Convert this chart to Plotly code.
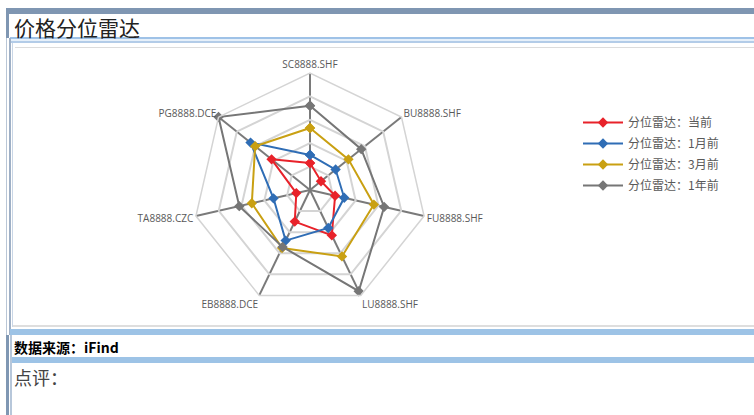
import plotly.graph_objects as go

W, H = 754, 415

categories = ["SC8888.SHF", "BU8888.SHF", "FU8888.SHF", "LU8888.SHF",
              "EB8888.DCE", "TA8888.CZC", "PG8888.DCE"]
series_names = ["分位雷达：当前", "分位雷达：1月前", "分位雷达：3月前", "分位雷达：1年前"]
current_vals = [0.23, 0.12, 0.22, 0.43, 0.30, 0.12, 0.42]
month1_vals = [0.30, 0.28, 0.30, 0.36, 0.48, 0.32, 0.65]
month3_vals = [0.53, 0.42, 0.56, 0.63, 0.55, 0.51, 0.60]
year1_vals = [0.72, 0.56, 0.65, 0.96, 0.54, 0.62, 1.00]
colors = ["#e8222a", "#2f6db5", "#c9a012", "#767676"]

all_vals = [current_vals, month1_vals, month3_vals, year1_vals]


def px(x):
    return x / W


def py(y):
    return 1 - y / H


fig = go.Figure()
for i, (name, vals, col) in enumerate(zip(series_names, all_vals, colors)):
    fig.add_trace(go.Scatterpolar(
        r=vals + vals[:1],
        theta=categories + categories[:1],
        mode="lines+markers",
        name=name,
        legendgroup="g%d" % i,
        line=dict(color=col, width=2),
        marker=dict(symbol="diamond", size=8, color=col),
    ))

cx, cy, R = 310, 190, 117

shapes = []


def rect(x0, y0, x1, y1, color):
    shapes.append(dict(type="rect", xref="paper", yref="paper",
                       x0=px(x0), x1=px(x1), y0=py(y1), y1=py(y0),
                       fillcolor=color, line=dict(width=0), layer="below"))


# header bar
rect(7, 8, W, 14, "#7f96b2")
rect(6, 8, 9, 38, "#7f96b2")
# under-title lines
rect(10, 37, W, 39, "#9fc2e7")
rect(10, 39, W, 41, "#e6f0fa")
rect(10, 41, W, 43, "#b3cce8")
rect(15, 47, W, 48, "#dcdcdc")
# chart frame left borders
rect(6, 38, 7, 335, "#b9c6d6")
rect(9, 38, 11, 335, "#9fb0c6")
rect(12, 43, 13, 327, "#c9d6e6")
# chart bottom border
rect(13, 325, W, 327, "#dedede")
# blue bars
rect(10, 329, W, 335, "#9dc3e6")
rect(10, 357, W, 363, "#9dc3e6")
# left bars below
rect(6, 335, 9, H, "#8097b3")
rect(10, 335, 12, H, "#b7c7da")

annotations = [
    dict(text="价格分位雷达", x=px(12), y=py(27), xref="paper", yref="paper",
         xanchor="left", yanchor="middle", showarrow=False,
         font=dict(family="Noto Sans CJK SC", size=21, color="#222222")),
    dict(text="<b>数据来源：iFind</b>", x=px(12), y=py(347), xref="paper", yref="paper",
         xanchor="left", yanchor="middle", showarrow=False,
         font=dict(family="Noto Sans CJK SC", size=14, color="#000000")),
    dict(text="点评：", x=px(12), y=py(377), xref="paper", yref="paper",
         xanchor="left", yanchor="middle", showarrow=False,
         font=dict(family="Noto Sans CJK SC", size=18, color="#444444")),
]

fig.update_layout(
    width=W, height=H, autosize=False,
    margin=dict(l=0, r=0, t=0, b=0),
    paper_bgcolor="white",
    shapes=shapes,
    annotations=annotations,
    polar=dict(
        domain=dict(x=[px(cx - R), px(cx + R)], y=[py(cy + R), py(cy - R)]),
        bgcolor="rgba(0,0,0,0)",
        gridshape="linear",
        radialaxis=dict(range=[0, 1], dtick=0.2, showticklabels=False, ticks="",
                        showline=False, gridcolor="#d4d4d4", gridwidth=1.5),
        angularaxis=dict(direction="clockwise", rotation=90,
                         linecolor="#d4d4d4", linewidth=1.5,
                         gridcolor="#7a7a7a", gridwidth=1.5,
                         ticks="",
                         tickfont=dict(family="Open Sans", size=10, color="#595959")),
    ),
    legend=dict(x=px(578), y=py(108), xanchor="left", yanchor="top",
                font=dict(family="Noto Sans CJK SC", size=12, color="#595959"),
                bgcolor="rgba(0,0,0,0)", tracegroupgap=2, itemwidth=40),
)

fig.write_html("out.html", config={"displayModeBar": False},
               post_script="document.body.style.margin='0';document.body.style.overflow='hidden';")
